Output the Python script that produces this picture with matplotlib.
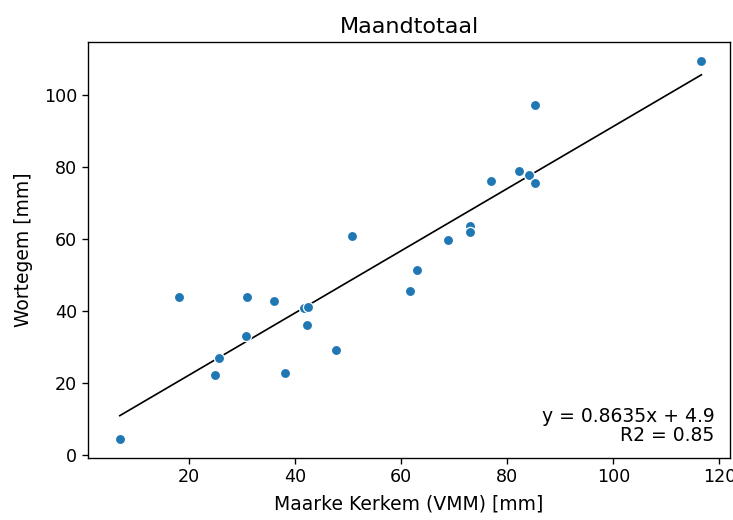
import matplotlib
matplotlib.use("Agg")
import matplotlib.pyplot as plt
import numpy as np

# monthly totals [mm]
kerkem = [7.0, 18.1, 24.9, 25.7, 30.7, 30.9, 36.0, 38.1, 41.8, 42.5, 42.3, 47.8,
          50.8, 61.7, 63.0, 68.9, 72.9, 72.9, 77.0, 82.3, 84.2, 85.3, 85.3, 116.6]
wortegem = [4.6, 43.9, 22.2, 26.9, 33.2, 43.9, 42.9, 22.8, 40.7, 41.2, 36.0, 29.1,
            60.8, 45.5, 51.3, 59.7, 63.5, 61.8, 76.2, 78.8, 77.8, 75.6, 97.3, 109.3]

slope = 0.8635
intercept = 4.9
r2 = 0.85

scale = 1.22
plt.rcParams["font.size"] = 10 * scale

fig = plt.figure(figsize=(7.33, 5.2), dpi=100)
ax = fig.add_axes([0.12, 0.12, 0.876, 0.8])

ax.scatter(kerkem, wortegem, s=(6 * scale) ** 2, color="#1f77b4",
           edgecolors="white", linewidths=0.75 * scale, zorder=3)

xs = np.array([min(kerkem), max(kerkem)])
ax.plot(xs, slope * xs + intercept, color="black", linewidth=1.0 * scale, zorder=2)

ax.text(0.976, 0.03, f"y = {slope}x + {intercept}\nR2 = {r2}",
        transform=ax.transAxes, ha="right", va="bottom", linespacing=1.0,
        fontsize=13.5)

ax.set_title("Maandtotaal", fontsize=16)
ax.set_xlabel("Maarke Kerkem (VMM) [mm]", fontsize=13.5, labelpad=6)
ax.set_ylabel("Wortegem [mm]", fontsize=13.5, labelpad=8)
ax.set_xticks([20, 40, 60, 80, 100, 120])
ax.set_yticks([0, 20, 40, 60, 80, 100])
ax.tick_params(labelsize=12.6)
ax.set_xlim(1.0, 122.0)
ax.set_ylim(-0.7, 114.8)
for s in ax.spines.values():
    s.set_linewidth(0.8 * scale)
ax.tick_params(width=0.8 * scale, length=3.5 * scale)

fig.savefig("out.png", dpi=100)
